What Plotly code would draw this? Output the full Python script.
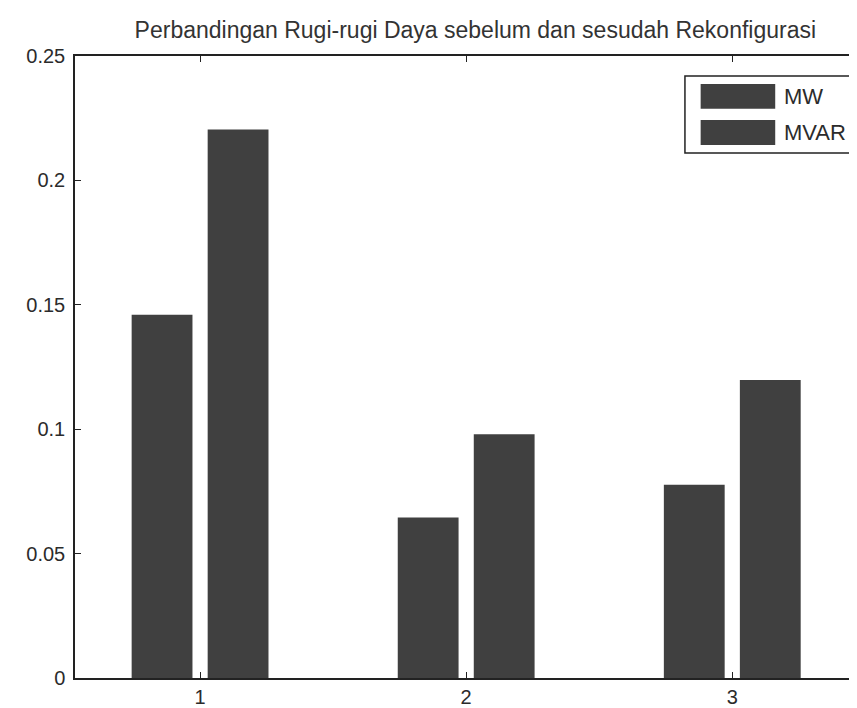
import plotly.graph_objects as go

categories = [1, 2, 3]
series_names = ["MW", "MVAR"]
mw = [0.146, 0.0645, 0.0777]
mvar = [0.2205, 0.098, 0.1198]
y_ticks = [0, 0.05, 0.1, 0.15, 0.2, 0.25]
y_tick_labels = ["0", "0.05", "0.1", "0.15", "0.2", "0.25"]

bar_color = "#404040"
line_color = "#222222"
text_color = "#2b2b2b"
font_family = "Liberation Sans, Arial, sans-serif"

fig = go.Figure()
fig.add_trace(go.Bar(x=categories, y=mw, name=series_names[0],
                     marker=dict(color=bar_color, line=dict(width=0))))
fig.add_trace(go.Bar(x=categories, y=mvar, name=series_names[1],
                     marker=dict(color=bar_color, line=dict(width=0))))

# legend drawn as a MATLAB-style box with large swatches (paper coordinates)
legend_box = dict(x0=0.777, x1=1.004, y0=0.844, y1=0.968)
swatch_x = (0.797, 0.892)
swatch_y = [(0.915, 0.955), (0.857, 0.897)]
shapes = [dict(type="rect", xref="paper", yref="paper", **legend_box,
               line=dict(color=line_color, width=1.5), fillcolor="white", layer="above")]
annotations = []
for name, (y0, y1) in zip(series_names, swatch_y):
    shapes.append(dict(type="rect", xref="paper", yref="paper",
                       x0=swatch_x[0], x1=swatch_x[1], y0=y0, y1=y1,
                       line=dict(width=0), fillcolor=bar_color, layer="above"))
    annotations.append(dict(xref="paper", yref="paper", x=0.901, y=(y0 + y1) / 2,
                            xanchor="left", yanchor="middle", text=name, showarrow=False,
                            font=dict(size=22, color=text_color, family=font_family)))

fig.update_layout(
    width=857, height=708,
    margin=dict(l=67, r=5, t=48, b=38),
    paper_bgcolor="white", plot_bgcolor="white",
    barmode="group", bargap=0.4286, bargroupgap=0.2,
    font=dict(family=font_family, color=text_color, size=20),
    title=dict(text="Perbandingan Rugi-rugi Daya sebelum dan sesudah Rekonfigurasi",
               x=0.51, xref="paper", xanchor="center", y=0.969, yanchor="middle",
               font=dict(size=23, color="#333333")),
    showlegend=False,
    shapes=shapes,
    annotations=annotations,
    xaxis=dict(range=[0.53, 3.48], tickvals=categories, ticktext=[str(c) for c in categories],
               automargin=False,
               showgrid=False, zeroline=False, showline=True, linecolor=line_color, linewidth=1.5,
               mirror="allticks", ticks="inside", ticklen=6, tickcolor=line_color,
               tickfont=dict(size=20)),
    yaxis=dict(range=[0, 0.25], tickvals=y_ticks, ticktext=y_tick_labels,
               automargin=False, ticklabelstandoff=4,
               showgrid=False, zeroline=False, showline=True, linecolor=line_color, linewidth=1.5,
               mirror="allticks", ticks="inside", ticklen=6, tickcolor=line_color,
               tickfont=dict(size=20)),
)

fig.write_html("out.html")
